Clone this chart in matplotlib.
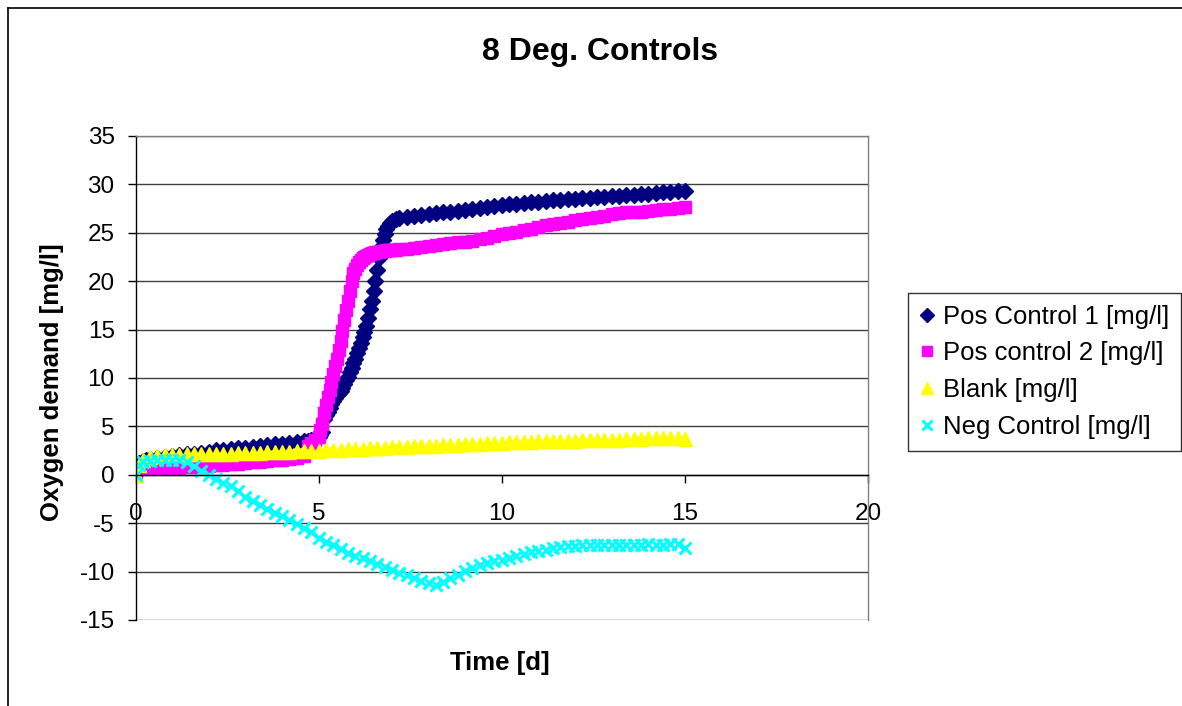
import matplotlib
matplotlib.use('Agg')
import matplotlib.pyplot as plt
from matplotlib.lines import Line2D

plt.rcParams['font.family'] = ['Liberation Sans', 'DejaVu Sans']
plt.rcParams['axes.unicode_minus'] = False

# time axis for the two positive controls (denser through the steep rise)
t_pos = [0, 0.05, 0.1, 0.2, 0.3, 0.4, 0.6, 0.8, 1.0, 1.2, 1.4, 1.6, 1.8, 2.0,
         2.2, 2.4, 2.6, 2.8, 3.0, 3.2, 3.4, 3.6, 3.8, 4.0, 4.2, 4.4, 4.6, 4.7,
         4.8, 4.9,
         5.0, 5.05, 5.1, 5.15, 5.2, 5.25, 5.3, 5.35, 5.4, 5.45, 5.5, 5.55, 5.6,
         5.65, 5.7, 5.75, 5.8, 5.85, 5.9, 5.95, 6.0, 6.05, 6.1, 6.15, 6.2, 6.25,
         6.3, 6.35, 6.4, 6.45, 6.5, 6.55, 6.6, 6.65, 6.7, 6.75, 6.8, 6.85, 6.9,
         6.95, 7.0, 7.1,
         7.2, 7.4, 7.6, 7.8, 8.0, 8.2, 8.4, 8.6, 8.8, 9.0, 9.2, 9.4, 9.6, 9.8,
         10.0, 10.2, 10.4, 10.6, 10.8, 11.0, 11.2, 11.4, 11.6, 11.8, 12.0, 12.2,
         12.4, 12.6, 12.8, 13.0, 13.2, 13.4, 13.6, 13.8, 14.0, 14.2, 14.4, 14.6,
         14.8, 15.0]

pos_control_1 = [0.4, 0.9, 1.2, 1.4, 1.5, 1.6, 1.7, 1.8, 1.9, 2.0, 2.1, 2.2, 2.3, 2.4,
                 2.6, 2.6, 2.7, 2.8, 2.8, 2.9, 3.0, 3.1, 3.2, 3.2, 3.3, 3.4, 3.5, 3.5,
                 3.6, 3.7,
                 3.9, 4.1, 4.4, 5.8, 6.2, 6.5, 6.9, 7.3, 7.6, 7.9, 8.2, 8.4, 8.7,
                 9.0, 9.4, 9.8, 10.1, 10.6, 11.0, 11.6, 12.0, 12.6, 13.1, 13.6, 14.2, 14.8,
                 15.4, 16.2, 17.1, 18.0, 19.0, 20.0, 21.2, 22.4, 23.5, 24.3, 24.9, 25.4, 25.7,
                 26.0, 26.2, 26.4,
                 26.5, 26.6, 26.7, 26.8, 26.9, 27.0, 27.1, 27.2, 27.3, 27.4, 27.5, 27.6, 27.7, 27.8,
                 27.9, 28.0, 28.0, 28.1, 28.2, 28.2, 28.3, 28.4, 28.4, 28.5, 28.5, 28.6,
                 28.6, 28.7, 28.7, 28.8, 28.8, 28.9, 28.9, 29.0, 29.0, 29.1, 29.2, 29.2,
                 29.3, 29.3]

pos_control_2 = [0.3, 0.6, 0.7, 0.7, 0.7, 0.7, 0.7, 0.7, 0.7, 0.7, 0.8, 0.8, 0.8, 0.9,
                 1.0, 1.0, 1.1, 1.1, 1.2, 1.3, 1.3, 1.4, 1.5, 1.5, 1.6, 1.7, 1.9, 3.0,
                 3.3, 3.6,
                 3.9, 4.6, 5.2, 6.4, 7.2, 8.0, 8.8, 9.6, 10.4, 11.2, 12.0, 12.9, 13.8,
                 14.9, 16.0, 17.0, 18.0, 19.0, 20.0, 20.8, 21.3, 21.7, 22.0, 22.2, 22.4, 22.5,
                 22.6, 22.7, 22.8, 22.9, 22.9, 23.0, 23.0, 23.0, 23.1, 23.1, 23.1, 23.2, 23.2,
                 23.2, 23.2, 23.2,
                 23.3, 23.3, 23.4, 23.5, 23.6, 23.7, 23.8, 23.9, 24.0, 24.1, 24.2, 24.4, 24.5, 24.7,
                 24.9, 25.0, 25.1, 25.3, 25.4, 25.6, 25.8, 25.9, 26.0, 26.1, 26.3, 26.4,
                 26.5, 26.6, 26.7, 26.9, 27.0, 27.1, 27.2, 27.2, 27.3, 27.4, 27.5, 27.5,
                 27.6, 27.7]

# time axis for blank and negative control
t_base = [0, 0.1, 0.2, 0.4, 0.6, 0.8, 1.0, 1.2, 1.4, 1.6, 1.8, 2.0, 2.2, 2.4, 2.6,
          2.8, 3.0, 3.2, 3.4, 3.6, 3.8, 4.0, 4.2, 4.4, 4.6, 4.8, 5.0, 5.2, 5.4,
          5.6, 5.8, 6.0, 6.2, 6.4, 6.6, 6.8, 7.0, 7.2, 7.4, 7.6, 7.8, 8.0, 8.2,
          8.4, 8.6, 8.8, 9.0, 9.2, 9.4, 9.6, 9.8, 10.0, 10.2, 10.4, 10.6, 10.8,
          11.0, 11.2, 11.4, 11.6, 11.8, 12.0, 12.2, 12.4, 12.6, 12.8, 13.0, 13.2,
          13.4, 13.6, 13.8, 14.0, 14.2, 14.4, 14.6, 14.8, 15.0]

blank = [0.0, 1.0, 1.5, 1.8, 1.9, 2.0, 2.0, 2.0, 2.1, 2.1, 2.1, 2.2, 2.2, 2.2, 2.2,
         2.3, 2.3, 2.3, 2.3, 2.4, 2.4, 2.4, 2.4, 2.5, 2.5, 2.5, 2.5, 2.6, 2.6,
         2.6, 2.7, 2.7, 2.7, 2.8, 2.8, 2.8, 2.9, 2.9, 2.9, 3.0, 3.0, 3.0, 3.0,
         3.1, 3.1, 3.1, 3.2, 3.2, 3.2, 3.3, 3.3, 3.3, 3.4, 3.4, 3.4, 3.4,
         3.5, 3.5, 3.5, 3.5, 3.5, 3.5, 3.6, 3.6, 3.6, 3.6, 3.6, 3.6,
         3.7, 3.7, 3.7, 3.8, 3.8, 3.8, 3.8, 3.8, 3.7]

neg_control = [0.0, 1.0, 1.3, 1.4, 1.5, 1.5, 1.5, 1.5, 1.3, 0.9, 0.4, 0.0, -0.4, -0.8, -1.2,
               -1.7, -2.3, -2.7, -3.1, -3.5, -3.9, -4.3, -4.7, -5.1, -5.5, -5.9, -6.5, -6.9, -7.3,
               -7.7, -8.1, -8.4, -8.6, -8.9, -9.2, -9.5, -9.8, -10.1, -10.4, -10.7, -11.0, -11.2, -11.4,
               -11.1, -10.7, -10.3, -9.9, -9.6, -9.3, -9.1, -8.9, -8.8, -8.6, -8.4, -8.2, -8.0,
               -7.9, -7.8, -7.6, -7.5, -7.4, -7.4, -7.3, -7.3, -7.3, -7.3, -7.3, -7.3,
               -7.3, -7.3, -7.3, -7.2, -7.3, -7.3, -7.2, -7.2, -7.6]

labels = ['Pos Control 1 [mg/l]', 'Pos control 2 [mg/l]', 'Blank [mg/l]', 'Neg Control [mg/l]']
x_ticks = [0, 5, 10, 15, 20]
y_ticks = [-15, -10, -5, 0, 5, 10, 15, 20, 25, 30, 35]

W, H = 1182, 706
fig = plt.figure(figsize=(W / 100, H / 100), dpi=100)
ax = fig.add_axes([135.5 / W, 1 - 620 / H, (868 - 135.5) / W, (620 - 136) / H])

ax.plot(t_pos, pos_control_1, ls='none', marker='D', ms=8, color='#000080', mec='#000080', label=labels[0])
ax.plot(t_pos, pos_control_2, ls='none', marker='s', ms=8, color='#FF00FF', mec='#FF00FF', label=labels[1])
ax.plot(t_base, blank, ls='none', marker='^', ms=9.5, color='#FFFF00', mec='#FFFF00', label=labels[2])
ax.plot(t_base, neg_control, ls='none', marker='x', ms=8.5, mew=2.2, color='#00FFFF', label=labels[3])

ax.set_xlim(0, 20)
ax.set_ylim(-15, 35)
ax.set_xticks(x_ticks)
ax.set_yticks(y_ticks)
ax.yaxis.grid(True, color='#404040', lw=1.0)
ax.set_axisbelow(True)

ax.spines['bottom'].set_position(('data', 0))
ax.spines['bottom'].set_color('black')
ax.spines['left'].set_color('black')
ax.spines['top'].set_color('#808080')
ax.spines['right'].set_color('#808080')
for s in ax.spines.values():
    s.set_linewidth(1.0)

ax.tick_params(axis='x', direction='out', length=6, width=1, pad=14, labelsize=17.5)
ax.tick_params(axis='y', direction='out', length=6, width=1, pad=9, labelsize=17.5)

fig.text(600 / W, 1 - 52 / H, '8 Deg. Controls', ha='center', va='center', fontsize=23, fontweight='bold')
fig.text(500 / W, 1 - 663 / H, 'Time [d]', ha='center', va='center', fontsize=18.5, fontweight='bold')
fig.text(52 / W, 1 - 382 / H, 'Oxygen demand [mg/l]', ha='center', va='center', rotation=90,
         fontsize=18.5, fontweight='bold')

leg = fig.legend(loc='upper left', bbox_to_anchor=(908 / W, 1 - 293 / H), fontsize=18.5,
                 frameon=True, fancybox=False, borderaxespad=0, borderpad=0.45,
                 handlelength=0.6, handletextpad=0.3, labelspacing=0.5, numpoints=1,
                 markerscale=0.85)
leg.get_frame().set_edgecolor('black')
leg.get_frame().set_linewidth(1.0)

# outer chart border (left and top edges visible)
fig.add_artist(Line2D([8 / W, 8 / W], [0, 1 - 8 / H], color='black', lw=1.2))
fig.add_artist(Line2D([8 / W, 1], [1 - 8 / H, 1 - 8 / H], color='black', lw=1.2))

plt.savefig('out.png', dpi=100)
plt.close()
